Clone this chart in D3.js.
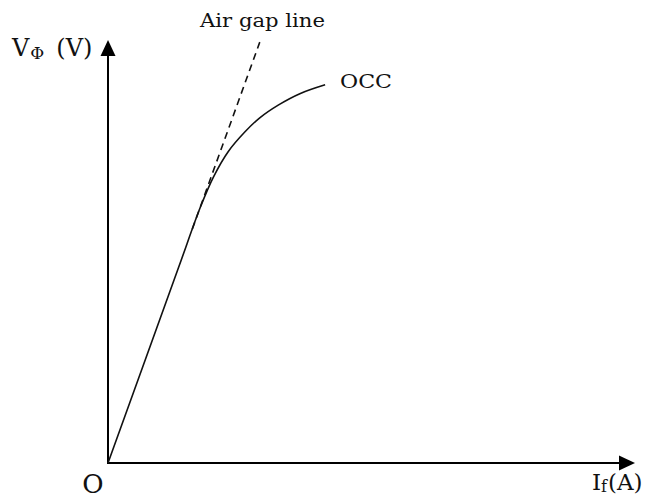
<!DOCTYPE html>
<html>
<head>
<meta charset="utf-8">
<script src="https://cdn.jsdelivr.net/npm/d3@7"></script>
<style>
  html, body { margin: 0; padding: 0; background: #fff; }
  svg { display: block; }
  text { font-family: "DejaVu Serif", "Liberation Serif", serif; fill: #111; }
</style>
</head>
<body>
<svg id="chart" width="661" height="499"></svg>
<script>
// Open-circuit characteristic: field current (arbitrary units) vs phase voltage
const occIf = [0, 13.3, 17.5, 20.0, 22.8, 26.0, 28.8, 32.3, 36.4, 41.2];
const occV  = [0, 45.9, 60.4, 67.6, 73.6, 78.3, 81.6, 84.6, 87.3, 89.4];

// Air gap line (extension of the linear part, drawn dashed where it leaves the curve)
const airGapIf = [16.0, 28.8];
const airGapV  = [55.3, 99.5];

// Axis extents (arrow tips)
const axisMax = [100, 100];

const svg = d3.select("#chart");
const x = d3.scaleLinear().domain([0, 100]).range([108, 635]);
const y = d3.scaleLinear().domain([0, 100]).range([463, 40]);

// Axes with arrowheads
const arrowLen = 16, arrowHalf = 7.5;
svg.append("line")
  .attr("x1", x(0)).attr("y1", y(0))
  .attr("x2", x(0)).attr("y2", y(axisMax[1]) + arrowLen - 1)
  .attr("stroke", "#000").attr("stroke-width", 2);
svg.append("path")
  .attr("d", `M${x(0)},${y(axisMax[1])} L${x(0) - arrowHalf},${y(axisMax[1]) + arrowLen} L${x(0) + arrowHalf},${y(axisMax[1]) + arrowLen} Z`)
  .attr("fill", "#000");

svg.append("line")
  .attr("x1", x(0) - 1).attr("y1", y(0))
  .attr("x2", x(axisMax[0]) - arrowLen + 1).attr("y2", y(0))
  .attr("stroke", "#000").attr("stroke-width", 2);
svg.append("path")
  .attr("d", `M${x(axisMax[0])},${y(0)} L${x(axisMax[0]) - arrowLen},${y(0) - arrowHalf} L${x(axisMax[0]) - arrowLen},${y(0) + arrowHalf} Z`)
  .attr("fill", "#000");

// OCC curve
const occ = occIf.map((d, i) => [d, occV[i]]);
const line = d3.line().x(d => x(d[0])).y(d => y(d[1])).curve(d3.curveCatmullRom.alpha(0.5));
svg.append("path")
  .attr("d", line(occ))
  .attr("fill", "none").attr("stroke", "#111").attr("stroke-width", 1.6);

// Air gap line
const ag = airGapIf.map((d, i) => [d, airGapV[i]]);
svg.append("path")
  .attr("d", d3.line().x(d => x(d[0])).y(d => y(d[1]))(ag))
  .attr("fill", "none").attr("stroke", "#111").attr("stroke-width", 1.6)
  .attr("stroke-dasharray", "7,5");

// Labels
svg.append("text").attr("x", 200).attr("y", 27)
  .attr("font-size", 19).attr("textLength", 125).attr("lengthAdjust", "spacingAndGlyphs")
  .text("Air gap line");

svg.append("text").attr("x", 340).attr("y", 88)
  .attr("font-size", 19).attr("textLength", 52).attr("lengthAdjust", "spacingAndGlyphs")
  .text("OCC");

const yl = svg.append("text").attr("x", 12).attr("y", 56).attr("font-size", 24);
yl.append("tspan").text("V");
yl.append("tspan").attr("font-size", 17).attr("dy", 3).attr("dx", 1).text("Φ");
yl.append("tspan").attr("dy", -3).attr("dx", 12).text("(V)");

const xl = svg.append("text").attr("x", 592).attr("y", 490).attr("font-size", 23);
xl.append("tspan").text("I");
xl.append("tspan").attr("font-size", 16).attr("dy", 2).text("f");
xl.append("tspan").attr("dy", -2).attr("dx", 1).text("(A)");

svg.append("text").attr("x", 93).attr("y", 493)
  .attr("text-anchor", "middle").attr("font-size", 26).attr("font-weight", 300)
  .text("O");
</script>
</body>
</html>
